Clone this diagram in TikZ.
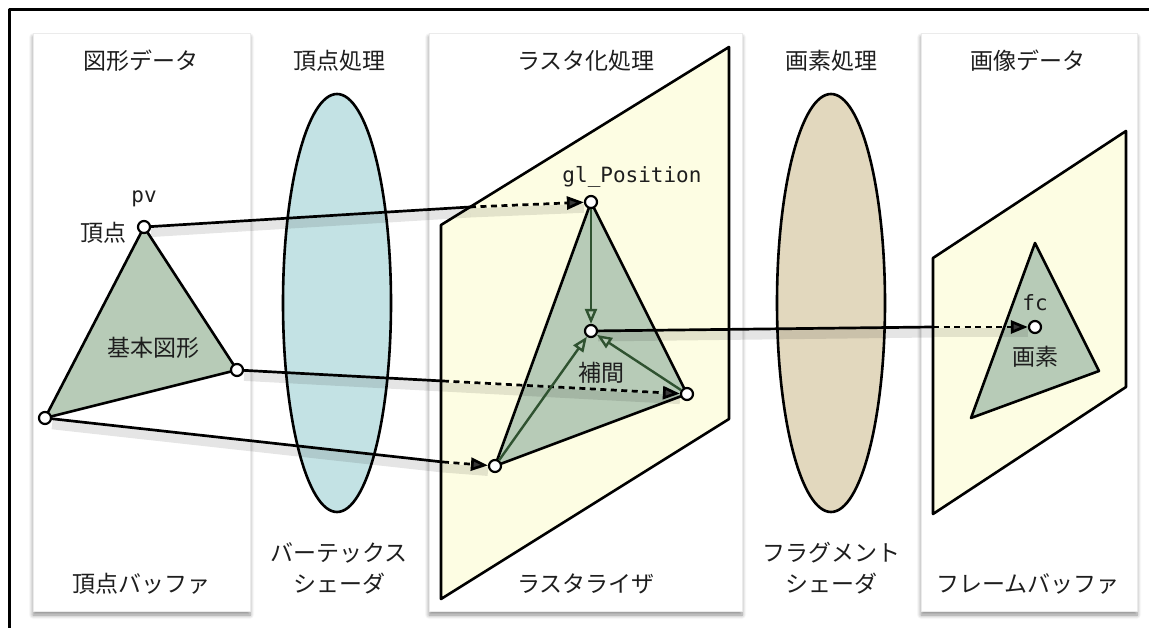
\documentclass[tikz,border=0pt]{standalone}
\usepackage{fontspec}
\setmainfont{Noto Sans CJK JP}
\newfontfamily\codefont{DejaVu Sans Mono}
\usepackage{xcolor}
\usepackage{tikz}
\usetikzlibrary{arrows.meta,shadows.blur}
\definecolor{prim}{HTML}{B7CBB7}
\definecolor{plane}{HTML}{FDFDE3}
\definecolor{vsh}{HTML}{C3E2E4}
\definecolor{fsh}{HTML}{E2D8BE}
\definecolor{interp}{HTML}{2F5230}
\definecolor{ink}{HTML}{1E1E1E}
\tikzset{
  panel/.style={fill=white,draw=black!8,line width=.8pt,
    blur shadow={shadow xshift=0pt,shadow yshift=-4pt,shadow blur steps=6,
      shadow blur radius=4pt,shadow opacity=45}},
  pt/.style={circle,draw,fill=white,line width=2.2pt,inner sep=0pt,minimum size=12pt},
  tri/.style={draw,fill=prim,line width=2.6pt},
  lbl/.style={text=ink,font=\fontsize{23}{27}\selectfont},
  code/.style={text=ink,font=\codefont\fontsize{21}{24}\selectfont,anchor=base},
  wire/.style={line width=2.7pt},
  dotwire/.style={line width=2.7pt,dash pattern=on 6pt off 4.5pt,
    -{Triangle[length=17pt,width=13pt]}},
  wshadow/.style={line width=9pt,draw=black,opacity=.1,transform canvas={yshift=-6pt}},
  interpo/.style={draw=interp,line width=2.4pt,
    -{Triangle[open,fill=prim,length=15pt,width=12pt]}}
}
\begin{document}
\begin{tikzpicture}[x=1pt,y=-1pt,line join=round]
\useasboundingbox (0,0) rectangle (1149,628);
\clip (0,0) rectangle (1149,628);
\draw[line width=3pt] (9,10) rectangle (1170,650);
\path[panel] (33,33) rectangle (250,611);
\path[panel] (429,33) rectangle (742,611);
\path[panel] (921,33) rectangle (1137,611);
% shaders
\draw[line width=2.6pt,fill=vsh] (337,303) ellipse [x radius=54,y radius=209];
\draw[line width=2.6pt,fill=fsh] (831,303) ellipse [x radius=54,y radius=209];
% planes
\draw[line width=2.6pt,fill=plane] (441,225)--(729,47)--(729,419)--(441,599)--cycle;
\draw[line width=2.6pt,fill=plane] (933,258)--(1126,131)--(1126,387)--(933,514)--cycle;
% vertices
\coordinate (a1) at (144,227);
\coordinate (a2) at (237,370);
\coordinate (a3) at (45,418);
\coordinate (b1) at (591,202);
\coordinate (b2) at (687,394);
\coordinate (b3) at (495,466);
\coordinate (bc) at (591,331);
\coordinate (c1) at (1035,243);
\coordinate (c2) at (1099,371);
\coordinate (c3) at (971,418);
\coordinate (cc) at (1035,327);
\draw[tri] (a1)--(a2)--(a3)--cycle;
\draw[tri] (b1)--(b2)--(b3)--cycle;
\draw[tri] (c1)--(c2)--(c3)--cycle;
\node[pt] (pv) at (a1) {};
\node[pt] (pa) at (a2) {};
\node[pt] (pb) at (a3) {};
\node[pt] (gp) at (b1) {};
\node[pt] (ga) at (b2) {};
\node[pt] (gb) at (b3) {};
\node[pt] (ip) at (bc) {};
\node[pt] (fc) at (cc) {};
\coordinate (e1) at (470,207);
\coordinate (e2) at (443,381);
\coordinate (e3) at (443,462);
\coordinate (e4) at (933,327);
% connectors
\foreach \s/\t in {pv/e1,e1/gp,pa/e2,e2/ga,pb/e3,e3/gb,ip/e4,e4/fc}
  \draw[wshadow] (\s)--(\t);
\draw[wire] (pv)--(e1);
\draw[wire] (pa)--(e2);
\draw[wire] (pb)--(e3);
\draw[wire] (ip)--(e4);
\draw[dotwire] (e1)--(gp);
\draw[dotwire] (e2)--(ga);
\draw[dotwire] (e3)--(gb);
\draw[dotwire] (e4)--(fc);
\draw[interpo] (gp)--(ip);
\draw[interpo] (gb)--(ip);
\draw[interpo] (ga)--(ip);
% texts
\node[lbl] (h1) at (141,61) {図形データ};
\node[lbl] (h2) at (339,61) {頂点処理};
\node[lbl] (h3) at (586,61) {ラスタ化処理};
\node[lbl] (h4) at (831,61) {画素処理};
\node[lbl] (h5) at (1028,61) {画像データ};
\node[lbl] (f1) at (141,584) {頂点バッファ};
\node[lbl] (f2a) at (339,553) {バーテックス};
\node[lbl] (f2b) at (339,584) {シェーダ};
\node[lbl] (f3) at (586,584) {ラスタライザ};
\node[lbl] (f4a) at (831,553) {フラグメント};
\node[lbl] (f4b) at (831,584) {シェーダ};
\node[lbl] (f5) at (1028,584) {フレームバッファ};
\node[lbl] (vtx) at (103,233) {頂点};
\node[lbl] (prm) at (153,348) {基本図形};
\node[lbl] (itp) at (601,373) {補間};
\node[lbl] (pix) at (1035,357) {画素};
\node[code] (pvl) at (144,203) {pv};
\node[code] (glp) at (632,183) {gl\_Position};
\node[code] (fcl) at (1035,311) {fc};
\end{tikzpicture}
\end{document}
